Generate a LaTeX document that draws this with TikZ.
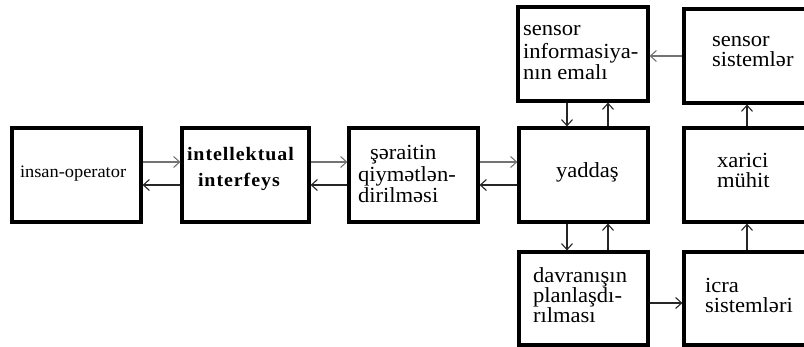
\documentclass[tikz,border=0pt]{standalone}
\usepackage{fontspec}
\setmainfont[FakeStretch=1.05]{Liberation Serif}
\newfontfamily\spacedbold[FakeStretch=1.05,LetterSpace=5]{Liberation Serif}
\usetikzlibrary{arrows.meta}
\begin{document}
\begin{tikzpicture}[x=1pt,y=-1pt,
  box/.style={draw=black,line width=3.2pt,fill=none,rectangle,inner sep=0pt},
  arr/.style={line width=1.1pt,draw=black!85,-{Straight Barb[length=6pt,width=11pt,line width=1.1pt]}},
  garr/.style={arr,draw=black!55},
  txt/.style={anchor=base west,inner sep=0pt,outer sep=0pt,font=\fontsize{21.5}{22}\selectfont},
  small/.style={txt,font=\fontsize{17.5}{20}\selectfont},
  bld/.style={txt,font=\spacedbold\bfseries\fontsize{19}{20}\selectfont}]
\clip (0,0) rectangle (804,347);
\fill[white] (0,0) rectangle (804,347);

% blocks
\node[box,minimum width=129,minimum height=94] (op)  at (76.5,175) {};
\node[box,minimum width=127,minimum height=94] (ii)  at (245.5,175) {};
\node[box,minimum width=129,minimum height=94] (sq)  at (413.5,175) {};
\node[box,minimum width=129,minimum height=94] (yad) at (583.5,175) {};
\node[box,minimum width=146,minimum height=94] (xm)  at (757,175) {};
\node[box,minimum width=130,minimum height=94] (si)  at (583,54) {};
\node[box,minimum width=146,minimum height=94] (ss)  at (757,56) {};
\node[box,minimum width=129,minimum height=93] (dp)  at (583.5,298.5) {};
\node[box,minimum width=146,minimum height=93] (ic)  at (757,298.5) {};

% labels
\node[small] (t1) at (20,178) {insan-operator};
\node[bld] (t2) at (187,161) {intellektual};
\node[bld] (t3) at (198,187) {interfeys};
\node[txt] (t4) at (370,160) {şəraitin};
\node[txt] (t5) at (358,182) {qiymətlən-};
\node[txt] (t6) at (358,203) {dirilməsi};
\node[txt] (t7) at (523,36) {sensor};
\node[txt] (t8) at (523,59) {informasiya-};
\node[txt] (t9) at (523,80) {nın emalı};
\node[txt] (t10) at (712,47) {sensor};
\node[txt] (t11) at (712,67) {sistemlər};
\node[txt] (t12) at (556,178) {yaddaş};
\node[txt] (t13) at (717,168) {xarici};
\node[txt] (t14) at (717,188) {mühit};
\node[txt] (t15) at (533,283) {davranışın};
\node[txt] (t16) at (533,303) {planlaşdı-};
\node[txt] (t17) at (533,323) {rılması};
\node[txt] (t18) at (705,293) {icra};
\node[txt] (t19) at (705,313) {sistemləri};

% horizontal links along the main chain
\draw[garr] (op.east |- 0,162) -- (ii.west |- 0,162);
\draw[arr]  (ii.west |- 0,185) -- (op.east |- 0,185);
\draw[garr] (ii.east |- 0,162) -- (sq.west |- 0,162);
\draw[arr]  (sq.west |- 0,185) -- (ii.east |- 0,185);
\draw[garr] (sq.east |- 0,162) -- (yad.west |- 0,162);
\draw[arr]  (yad.west |- 0,185) -- (sq.east |- 0,185);

% memory links
\draw[arr] (si.south -| 567,0) -- (yad.north -| 567,0);
\draw[arr] (yad.north -| 608,0) -- (si.south -| 608,0);
\draw[arr] (yad.south -| 567,0) -- (dp.north -| 567,0);
\draw[arr] (dp.north -| 608,0) -- (yad.south -| 608,0);

% environment loop
\draw[garr] (ss.west |- 0,56) -- (si.east |- 0,56);
\draw[arr] (xm.north -| 747,0) -- (ss.south -| 747,0);
\draw[arr] (ic.north -| 747,0) -- (xm.south -| 747,0);
\draw[arr] (dp.east |- 0,303) -- (ic.west |- 0,303);
\end{tikzpicture}
\end{document}
